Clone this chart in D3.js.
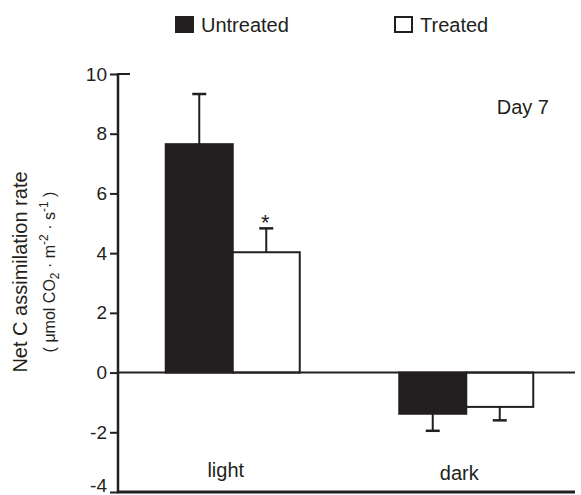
<!DOCTYPE html>
<html>
<head>
<meta charset="utf-8">
<script src="https://cdn.jsdelivr.net/npm/d3@7"></script>
<style>
  html, body { margin: 0; padding: 0; background: #fff; }
  svg { display: block; }
  text { font-family: "Liberation Sans", Arial, Helvetica, sans-serif; fill: #231f20; }
</style>
</head>
<body>
<svg id="chart" width="581" height="495"></svg>
<script>
// ---- data ----
const categories = ["light", "dark"];
const seriesNames = ["Untreated", "Treated"];
const untreatedValues = [7.65, -1.38];
const untreatedErrors = [1.68, 0.57];
const treatedValues = [4.03, -1.15];
const treatedErrors = [0.8, 0.45];
const significance = ["*", ""];  // on Treated bars
const yTicks = [-4, -2, 0, 2, 4, 6, 8, 10];
const yTickLabels = ["-4", "-2", "0", "2", "4", "6", "8", "10"];
const panelLabel = "Day 7";

const ink = "#231f20";
const svg = d3.select("#chart");

const y = d3.scaleLinear().domain([-4, 10]).range([492, 74]);
const x0 = d3.scaleBand().domain(categories).range([116, 583]).paddingInner(0).paddingOuter(0);
const x1 = d3.scaleBand().domain(seriesNames).range([0, x0.bandwidth()]).paddingInner(0).paddingOuter(0.7425);

const rows = categories.map((c, i) => ({
  cat: c,
  bars: [
    { s: "Untreated", v: untreatedValues[i], e: untreatedErrors[i], mark: "" },
    { s: "Treated", v: treatedValues[i], e: treatedErrors[i], mark: significance[i] }
  ]
}));

const axisLeft = 118;
const axisRight = 575;

// y axis
const yAxis = d3.axisLeft(y).tickValues(yTicks).tickSize(8).tickPadding(3)
  .tickFormat((d, i) => yTickLabels[i]);
const gy = svg.append("g").attr("transform", `translate(${axisLeft},0)`).call(yAxis);
gy.select(".domain").remove();
gy.selectAll(".tick line").attr("stroke", ink).attr("stroke-width", 2);
gy.selectAll(".tick text").attr("font-size", 19).attr("fill", ink).style("font-family", '"Liberation Sans", Arial, sans-serif')
  .attr("dy", d => d === -4 ? "-0.05em" : "0.32em");
svg.append("line").attr("x1", axisLeft).attr("x2", axisLeft).attr("y1", y(10) - 1).attr("y2", y(-4) + 1)
  .attr("stroke", ink).attr("stroke-width", 2.5);
// small cap at top
svg.append("line").attr("x1", axisLeft).attr("x2", axisLeft + 12).attr("y1", y(10)).attr("y2", y(10))
  .attr("stroke", ink).attr("stroke-width", 2);

// bars
const groups = svg.selectAll("g.grp").data(rows).join("g").attr("class", "grp")
  .attr("transform", d => `translate(${x0(d.cat)},0)`);

groups.selectAll("rect").data(d => d.bars).join("rect")
  .attr("x", d => x1(d.s))
  .attr("width", x1.bandwidth())
  .attr("y", d => Math.min(y(d.v), y(0)))
  .attr("height", d => Math.abs(y(d.v) - y(0)))
  .attr("fill", d => d.s === "Untreated" ? ink : "#fff")
  .attr("stroke", ink).attr("stroke-width", 2);

// error bars
const capHalf = 7;
groups.selectAll("g.err").data(d => d.bars).join("g").attr("class", "err").each(function(d) {
  const g = d3.select(this);
  const cx = x1(d.s) + x1.bandwidth() / 2;
  const end = d.v >= 0 ? d.v + d.e : d.v - d.e;
  g.append("line").attr("x1", cx).attr("x2", cx).attr("y1", y(d.v)).attr("y2", y(end))
    .attr("stroke", ink).attr("stroke-width", 2);
  g.append("line").attr("x1", cx - capHalf).attr("x2", cx + capHalf).attr("y1", y(end)).attr("y2", y(end))
    .attr("stroke", ink).attr("stroke-width", 2.5);
  if (d.mark) {
    g.append("text").attr("x", cx - 1).attr("y", y(end) + 2).attr("text-anchor", "middle")
      .attr("font-size", 22).text(d.mark);
  }
});

// zero line and bottom line
svg.append("line").attr("x1", axisLeft).attr("x2", axisRight).attr("y1", y(0)).attr("y2", y(0))
  .attr("stroke", ink).attr("stroke-width", 2);
svg.append("line").attr("x1", axisLeft - 1).attr("x2", axisRight).attr("y1", y(-4)).attr("y2", y(-4))
  .attr("stroke", ink).attr("stroke-width", 3);

// category labels
const catBase = { light: 477, dark: 480 };
svg.selectAll("text.cat").data(categories).join("text").attr("class", "cat")
  .attr("x", d => x0(d) + x0.bandwidth() / 2 - 7)
  .attr("y", d => catBase[d])
  .attr("text-anchor", "middle").attr("font-size", 20).text(d => d);

// panel label
svg.append("text").attr("x", 549).attr("y", 114).attr("text-anchor", "end").attr("font-size", 20).text(panelLabel);

// legend
const legX = [175, 394];
seriesNames.forEach((s, i) => {
  svg.append("rect").attr("x", legX[i] + 1).attr("y", 17).attr("width", 17).attr("height", 15)
    .attr("fill", s === "Untreated" ? ink : "#fff").attr("stroke", ink).attr("stroke-width", 2);
  svg.append("text").attr("x", legX[i] + 26).attr("y", 32).attr("font-size", 20).text(s);
});

// y-axis title
svg.append("text").attr("transform", "translate(27,272) rotate(-90)")
  .attr("text-anchor", "middle").attr("font-size", 20).text("Net C assimilation rate");
const sub = svg.append("text").attr("transform", "translate(55,272) rotate(-90)")
  .attr("text-anchor", "middle").attr("font-size", 16);
sub.append("tspan").text("( μmol CO");
sub.append("tspan").attr("font-size", 12).attr("dy", 4).text("2");
sub.append("tspan").attr("dy", -4).text(" · m");
sub.append("tspan").attr("font-size", 12).attr("dy", -7).text("-2");
sub.append("tspan").attr("dy", 7).text(" · s");
sub.append("tspan").attr("font-size", 12).attr("dy", -7).text("-1");
sub.append("tspan").attr("dy", 7).text(" )");
</script>
</body>
</html>
